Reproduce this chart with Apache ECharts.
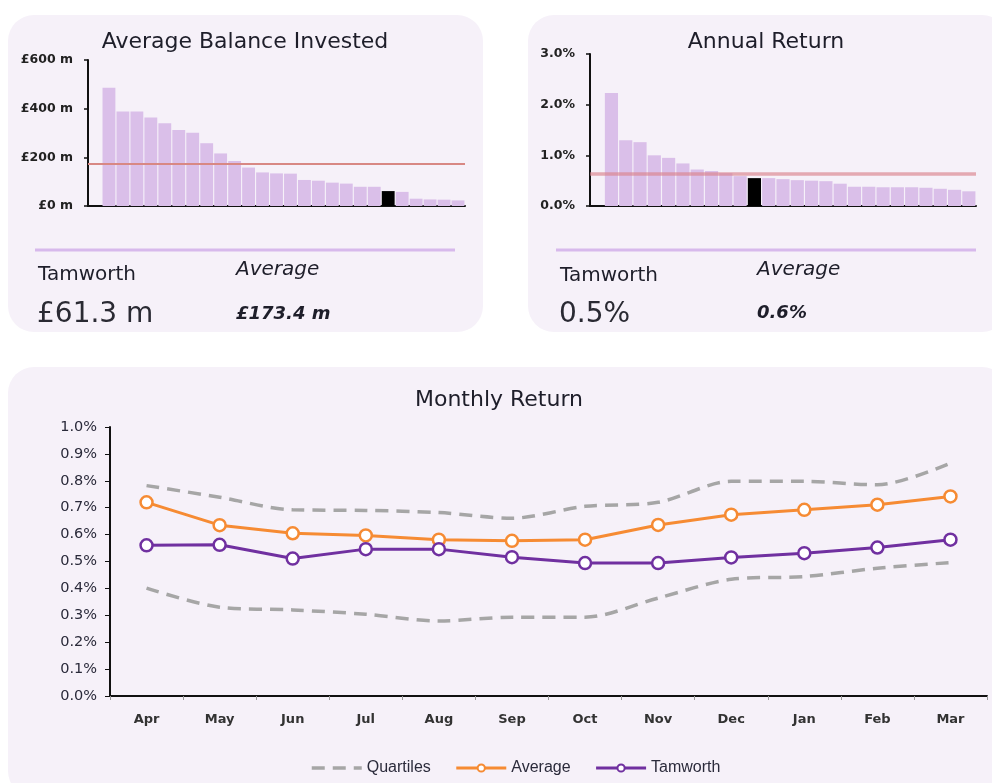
<!DOCTYPE html>
<html><head><meta charset="utf-8">
<script src="https://cdn.jsdelivr.net/npm/echarts/dist/echarts.min.js"></script>
<style>html,body{margin:0;padding:0;background:#fff}#c{width:992px;height:783px}</style>
</head><body><div id="c"></div>
<script>
// ---------- data ----------
const balanceCategories = ['F1','F2','F3','F4','F5','F6','F7','F8','F9','F10','F11','F12','F13','F14','F15','F16','F17','F18','F19','F20','Tamworth','F22','F23','F24','F25','F26'];
const balanceValues = [486, 388, 388, 364, 340, 312, 301, 258, 216, 185, 158, 138, 134, 133, 107, 104, 96, 92, 79, 79, 61.3, 58, 30, 27, 26, 23];
const balanceTamworthIndex = 20;
const balanceAverage = 173.4;
const balanceTicks = [0, 200, 400, 600];

const annualCategories = ['A1','A2','A3','A4','A5','A6','A7','A8','A9','A10','Tamworth','A12','A13','A14','A15','A16','A17','A18','A19','A20','A21','A22','A23','A24','A25','A26'];
const annualValues = [2.23, 1.30, 1.26, 1.00, 0.95, 0.84, 0.72, 0.69, 0.65, 0.59, 0.55, 0.55, 0.53, 0.51, 0.50, 0.49, 0.44, 0.38, 0.38, 0.37, 0.37, 0.37, 0.36, 0.34, 0.32, 0.29];
const annualTamworthIndex = 10;
const annualAverage = 0.64;

const months = ['Apr','May','Jun','Jul','Aug','Sep','Oct','Nov','Dec','Jan','Feb','Mar'];
const upperQuartile = [0.782, 0.739, 0.692, 0.690, 0.682, 0.661, 0.705, 0.720, 0.798, 0.798, 0.785, 0.866];
const lowerQuartile = [0.401, 0.330, 0.320, 0.304, 0.279, 0.293, 0.293, 0.364, 0.434, 0.444, 0.475, 0.496];
const averageMonthly = [0.720, 0.635, 0.605, 0.597, 0.581, 0.577, 0.581, 0.636, 0.674, 0.692, 0.711, 0.742];
const tamworthMonthly = [0.560, 0.562, 0.511, 0.546, 0.546, 0.516, 0.494, 0.494, 0.515, 0.531, 0.552, 0.581];

const texts = {
  balanceTitle: 'Average Balance Invested',
  annualTitle: 'Annual Return',
  monthlyTitle: 'Monthly Return',
  tamworth: 'Tamworth',
  average: 'Average',
  balanceTamworth: '£61.3 m',
  balanceAvg: '£173.4 m',
  annualTamworth: '0.5%',
  annualAvg: '0.6%'
};

// ---------- styles ----------
const FONT = 'DejaVu Sans';
const PANEL = '#f6f1f9';
const BAR = '#dabfe9';
const TXT = '#1e1e2a';

function barData(vals, idx) {
  return vals.map((v, i) => i === idx ? { value: v, itemStyle: { color: '#000' } } : v);
}

const chart = echarts.init(document.getElementById('c'), null, { renderer: 'canvas' });

const smallYAxis = (min, max, interval, fmt) => ({
  type: 'value', min, max, interval,
  axisLine: { show: true, lineStyle: { color: '#111', width: 2 } },
  axisTick: { show: true, length: 4, lineStyle: { color: '#111', width: 1.5 } },
  splitLine: { show: false },
  axisLabel: { formatter: fmt, fontFamily: FONT, fontSize: 12.5, fontWeight: 'bold', color: '#222', margin: 15 }
});
const smallXAxis = (cats) => ({
  type: 'category', data: cats, min: -1, boundaryGap: true,
  axisLine: { show: true, lineStyle: { color: '#111', width: 2 } },
  axisTick: { show: false }, axisLabel: { show: false }, splitLine: { show: false }
});

const option = {
  animation: false,
  backgroundColor: '#ffffff',
  textStyle: { fontFamily: FONT },
  grid: [
    { left: 88, top: 60, width: 377, height: 146 },
    { left: 590, top: 54, width: 386, height: 152 },
    { left: 110, top: 427, width: 877, height: 269 }
  ],
  xAxis: [
    Object.assign(smallXAxis(balanceCategories), { gridIndex: 0 }),
    Object.assign(smallXAxis(annualCategories), { gridIndex: 1 }),
    {
      gridIndex: 2, type: 'category', data: months, boundaryGap: true,
      axisLine: { show: true, lineStyle: { color: '#111', width: 2 } },
      axisTick: { show: true, length: 4, lineStyle: { color: '#999' } },
      axisLabel: { fontFamily: FONT, fontSize: 13, fontWeight: 'bold', color: '#333', margin: 17 },
      splitLine: { show: false }
    }
  ],
  yAxis: [
    Object.assign(smallYAxis(balanceTicks[0], balanceTicks[balanceTicks.length - 1], 200, v => '£' + v + ' m'), { gridIndex: 0 }),
    Object.assign(smallYAxis(0, 3, 1, v => v.toFixed(1) + '%'), { gridIndex: 1 }),
    {
      gridIndex: 2, type: 'value', min: 0, max: 1, interval: 0.1,
      axisLine: { show: true, lineStyle: { color: '#111', width: 2 } },
      axisTick: { show: true, length: 5, lineStyle: { color: '#111' } },
      splitLine: { show: false },
      axisLabel: { formatter: v => v.toFixed(1) + '%', fontFamily: FONT, fontSize: 14.5, color: '#2a2a3a', margin: 13 }
    }
  ],
  legend: {
    left: 305, top: 755, itemWidth: 50, itemHeight: 9, itemGap: 24,
    data: [
      { name: 'Quartiles', itemStyle: { opacity: 0 }, lineStyle: { width: 3.5 } },
      { name: 'Average', lineStyle: { width: 3 } },
      { name: 'Tamworth', lineStyle: { width: 3 } }
    ],
    textStyle: { fontFamily: 'Liberation Sans', fontSize: 16, color: '#2b2b3b' },
    selectedMode: false
  },
  series: [
    {
      type: 'bar', xAxisIndex: 0, yAxisIndex: 0, data: barData(balanceValues, balanceTamworthIndex),
      barCategoryGap: '8%', itemStyle: { color: BAR },
      markLine: { silent: true, symbol: 'none', label: { show: false },
        lineStyle: { color: '#d88884', width: 2, type: 'solid' }, data: [{ yAxis: balanceAverage }] }
    },
    {
      type: 'bar', xAxisIndex: 1, yAxisIndex: 1, data: barData(annualValues, annualTamworthIndex),
      barCategoryGap: '8%', itemStyle: { color: BAR },
      markLine: { silent: true, symbol: 'none', label: { show: false },
        lineStyle: { color: 'rgba(218,130,140,0.65)', width: 3.5, type: 'solid' }, data: [{ yAxis: annualAverage }] }
    },
    {
      name: 'Quartiles', type: 'line', xAxisIndex: 2, yAxisIndex: 2, data: upperQuartile,
      symbol: 'none', smooth: 0.3, lineStyle: { color: '#a6a6a6', width: 3.5, type: [13, 8] },
      itemStyle: { color: '#a6a6a6' }
    },
    {
      name: 'Quartiles', type: 'line', xAxisIndex: 2, yAxisIndex: 2, data: lowerQuartile,
      symbol: 'none', smooth: 0.3, lineStyle: { color: '#a6a6a6', width: 3.5, type: [13, 8] },
      itemStyle: { color: '#a6a6a6' }
    },
    {
      name: 'Average', type: 'line', xAxisIndex: 2, yAxisIndex: 2, data: averageMonthly,
      symbol: 'circle', symbolSize: 12, lineStyle: { color: '#f68b33', width: 3 },
      itemStyle: { color: '#ffffff', borderColor: '#f68b33', borderWidth: 2.5 }
    },
    {
      name: 'Tamworth', type: 'line', xAxisIndex: 2, yAxisIndex: 2, data: tamworthMonthly,
      symbol: 'circle', symbolSize: 12, lineStyle: { color: '#7030a0', width: 3 },
      itemStyle: { color: '#ffffff', borderColor: '#7030a0', borderWidth: 2.5 }
    }
  ],
  graphic: [
    { type: 'rect', z: -10, silent: true, shape: { x: 8, y: 15, width: 475, height: 317, r: 26 }, style: { fill: PANEL } },
    { type: 'rect', z: -10, silent: true, shape: { x: 528, y: 15, width: 480, height: 317, r: 26 }, style: { fill: PANEL } },
    { type: 'rect', z: -10, silent: true, shape: { x: 8, y: 367, width: 1000, height: 430, r: 26 }, style: { fill: PANEL } },
    { type: 'rect', z: -5, silent: true, shape: { x: 35, y: 248.5, width: 420, height: 3 }, style: { fill: '#d7b9ec' } },
    { type: 'rect', z: -5, silent: true, shape: { x: 556, y: 248.5, width: 420, height: 3 }, style: { fill: '#d7b9ec' } },

    { type: 'text', x: 245, y: 42, style: { text: texts.balanceTitle, font: '22px "DejaVu Sans"', fill: TXT, textAlign: 'center', textVerticalAlign: 'middle' } },
    { type: 'text', x: 766, y: 42, style: { text: texts.annualTitle, font: '22px "DejaVu Sans"', fill: TXT, textAlign: 'center', textVerticalAlign: 'middle' } },
    { type: 'text', x: 499, y: 400, style: { text: texts.monthlyTitle, font: '22px "DejaVu Sans"', fill: TXT, textAlign: 'center', textVerticalAlign: 'middle' } },

    { type: 'text', x: 38, y: 275, style: { text: texts.tamworth, font: '20px "DejaVu Sans"', fill: TXT, textAlign: 'left', textVerticalAlign: 'middle' } },
    { type: 'text', x: 236, y: 270, style: { text: texts.average, font: 'italic 20px "DejaVu Sans"', fill: TXT, textAlign: 'left', textVerticalAlign: 'middle' } },
    { type: 'text', x: 37, y: 315, style: { text: texts.balanceTamworth, font: '28px "DejaVu Sans"', fill: '#2a2a33', textAlign: 'left', textVerticalAlign: 'middle' } },
    { type: 'text', x: 236, y: 314, style: { text: texts.balanceAvg, font: 'italic bold 18px "DejaVu Sans"', fill: TXT, textAlign: 'left', textVerticalAlign: 'middle' } },

    { type: 'text', x: 560, y: 276, style: { text: texts.tamworth, font: '20px "DejaVu Sans"', fill: TXT, textAlign: 'left', textVerticalAlign: 'middle' } },
    { type: 'text', x: 757, y: 270, style: { text: texts.average, font: 'italic 20px "DejaVu Sans"', fill: TXT, textAlign: 'left', textVerticalAlign: 'middle' } },
    { type: 'text', x: 559, y: 315, style: { text: texts.annualTamworth, font: '28px "DejaVu Sans"', fill: '#2a2a33', textAlign: 'left', textVerticalAlign: 'middle' } },
    { type: 'text', x: 757, y: 313, style: { text: texts.annualAvg, font: 'italic bold 18px "DejaVu Sans"', fill: TXT, textAlign: 'left', textVerticalAlign: 'middle' } }
  ]
};
chart.setOption(option);
</script>
</body></html>
